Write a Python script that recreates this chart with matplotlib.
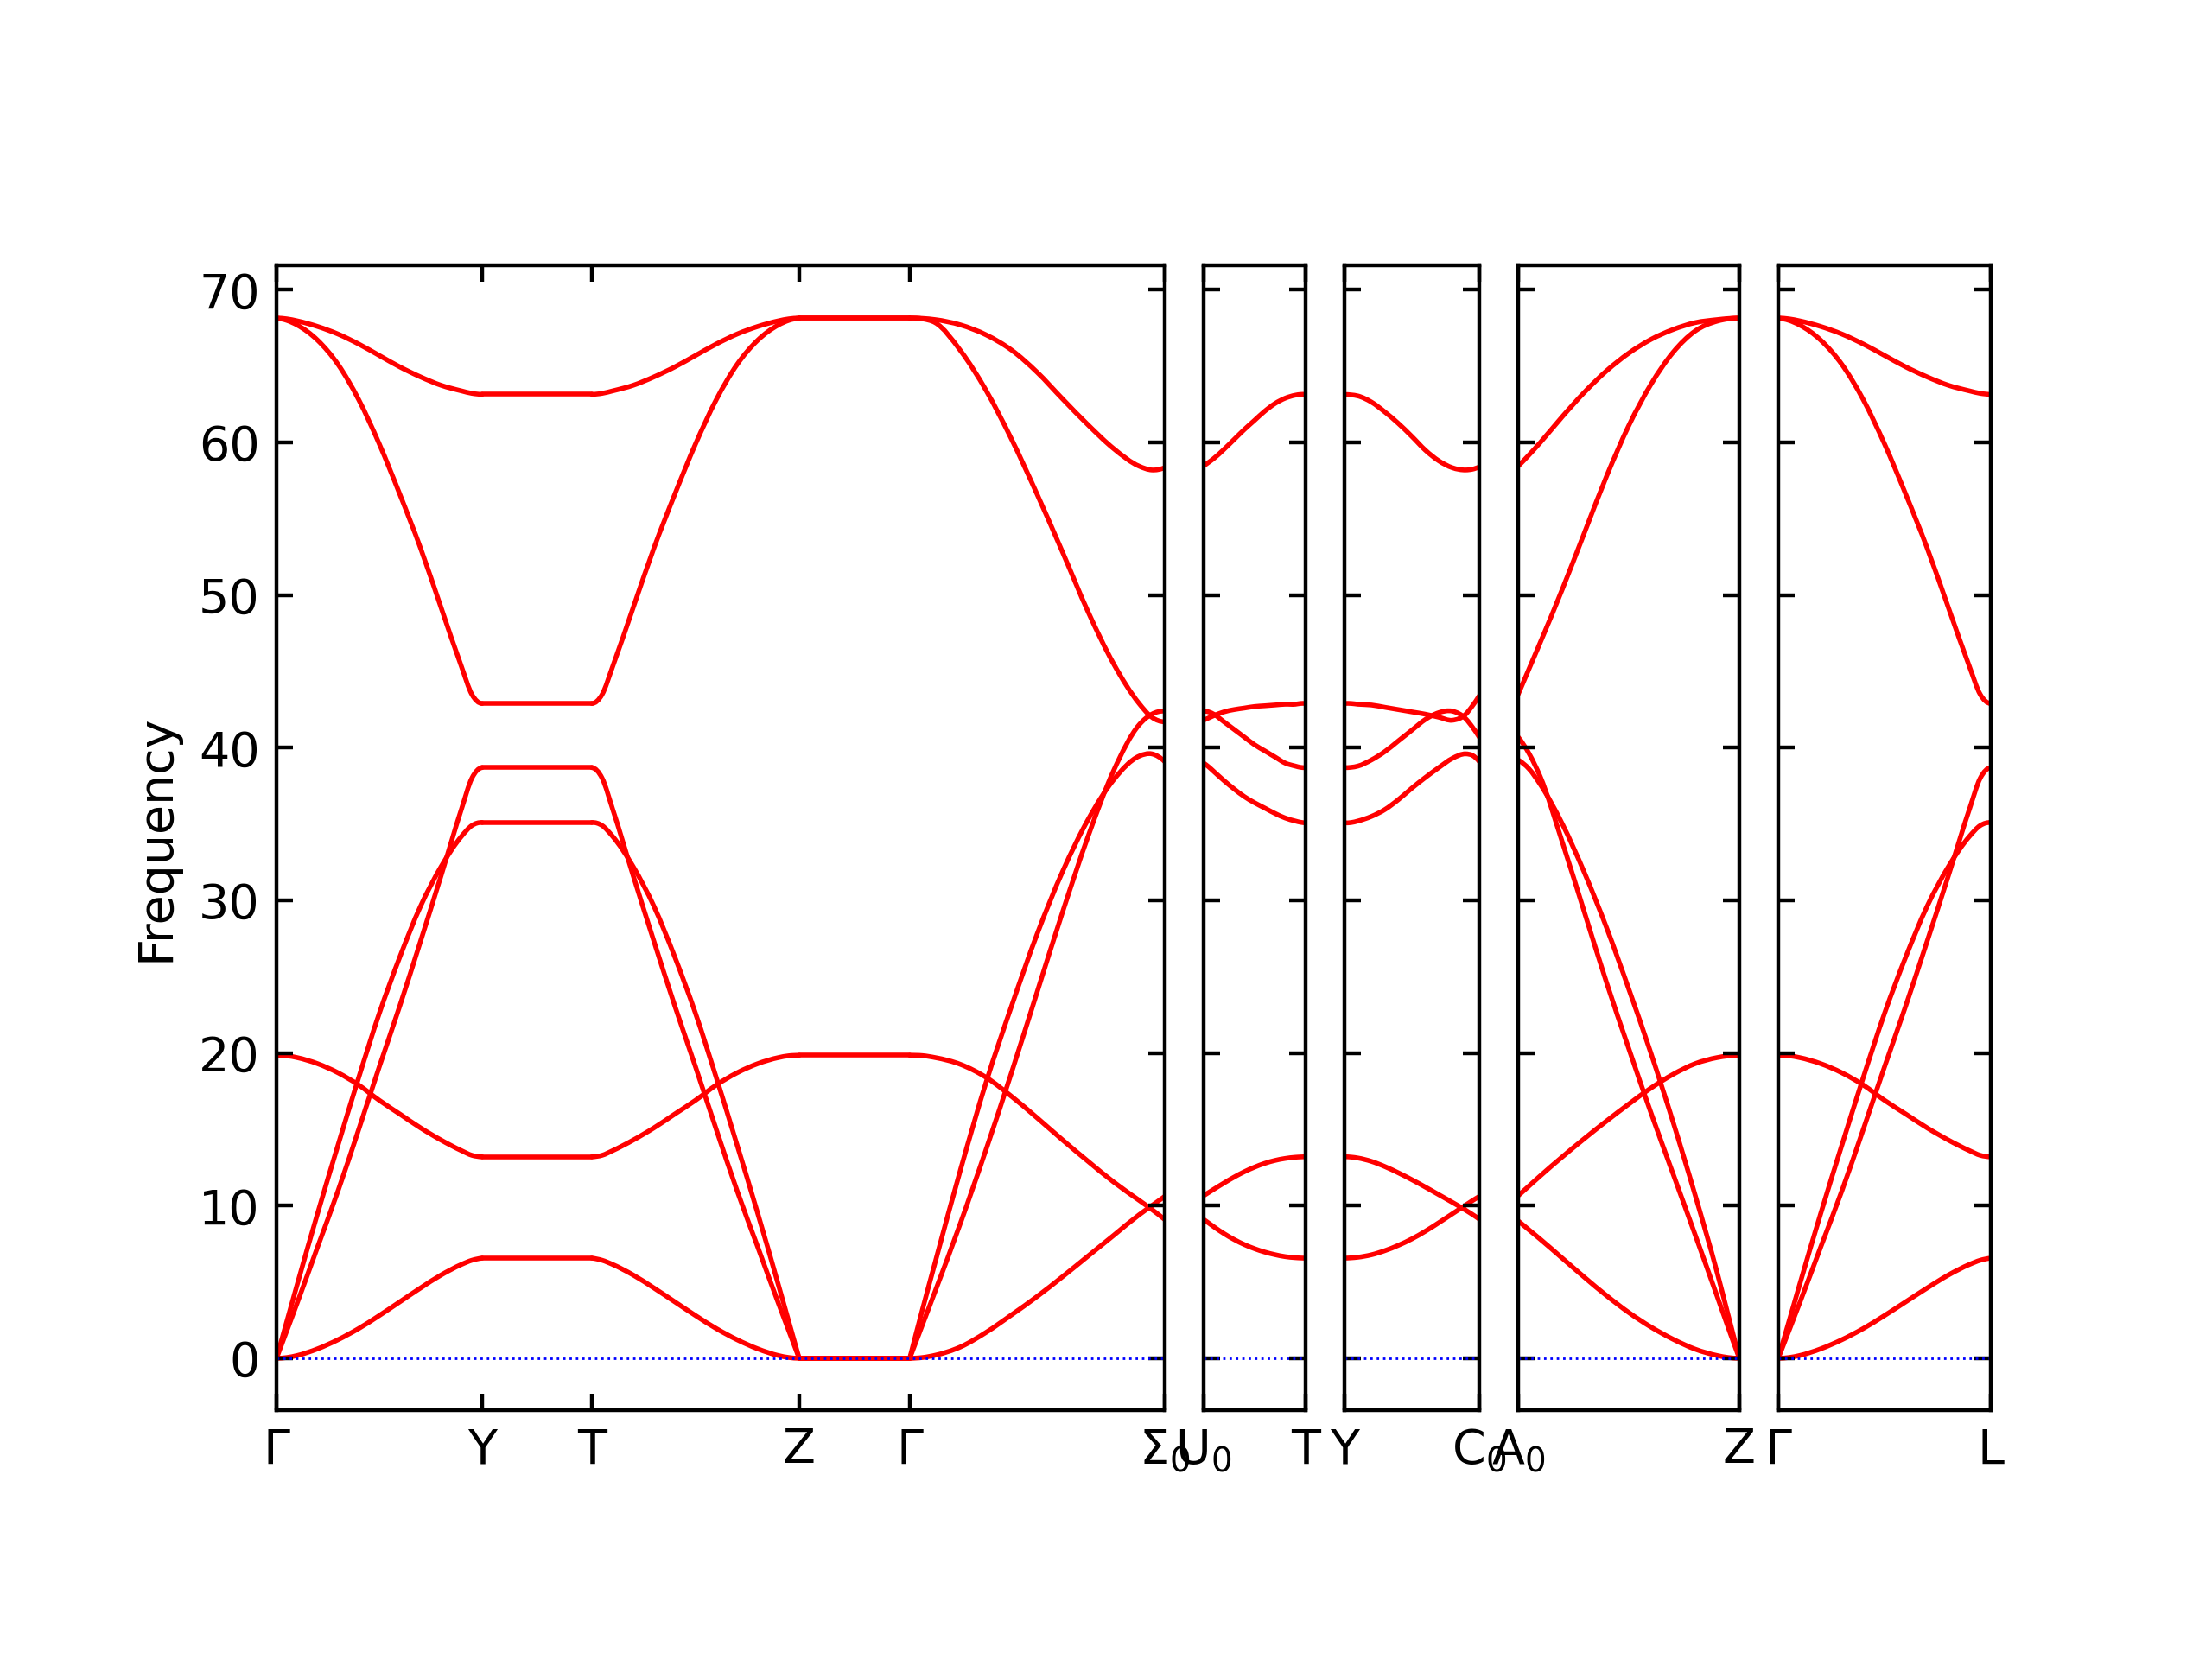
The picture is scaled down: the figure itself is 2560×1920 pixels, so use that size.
import matplotlib
matplotlib.use("Agg")
import matplotlib.pyplot as plt
from matplotlib.path import Path
from matplotlib.patches import PathPatch

# fractional positions along each path segment at which values were read
T13 = [0, .05, .1, .2, .3, .4, .5, .6, .7, .8, .9, .95, 1]
T2 = [0, 1]

# ---- Gamma -> Y ----
GY_A = [68.15, 68.1, 67.97, 67.6, 67.1, 66.45, 65.7, 64.95, 64.3, 63.75, 63.38, 63.22, 63.15]
GY_B = [68.15, 68.0, 67.7, 66.7, 65.1, 62.8, 59.9, 56.6, 53.1, 49.2, 45.3, 43.5, 42.9]
GY_C = [19.85, 19.82, 19.7, 19.3, 18.7, 17.9, 16.9, 16.0, 15.1, 14.3, 13.6, 13.3, 13.2]
GY_D = [0, 0.05, 0.18, 0.62, 1.22, 1.95, 2.8, 3.7, 4.6, 5.45, 6.15, 6.42, 6.56]
GY_E = [0, 1.8, 3.6, 7.3, 11.0, 15.0, 19.1, 23.1, 27.3, 31.6, 36.0, 38.0, 38.7]
GY_F = [0, 2.4, 4.8, 9.5, 14.0, 18.4, 22.6, 26.3, 29.6, 32.2, 34.2, 34.9, 35.1]

# ---- Y -> T (flat) ----
YT_VALUES = [63.15, 42.9, 13.2, 6.56, 38.7, 35.1]

# ---- T -> Z ----
TZ_A = [63.15, 63.22, 63.38, 63.75, 64.3, 64.95, 65.7, 66.45, 67.1, 67.6, 67.97, 68.1, 68.15]
TZ_B = [42.9, 43.5, 45.3, 49.2, 53.1, 56.6, 59.9, 62.8, 65.1, 66.7, 67.7, 68.0, 68.15]
TZ_C = [13.2, 13.3, 13.6, 14.3, 15.1, 16.0, 16.9, 17.9, 18.7, 19.3, 19.7, 19.82, 19.85]
TZ_D = [6.56, 6.42, 6.15, 5.45, 4.6, 3.7, 2.8, 1.95, 1.22, 0.62, 0.18, 0.05, 0]
TZ_E = [38.7, 38.0, 36.0, 31.6, 27.3, 23.1, 19.1, 15.0, 11.0, 7.3, 3.6, 1.8, 0]
TZ_F = [35.1, 34.9, 34.2, 32.2, 29.6, 26.3, 22.6, 18.4, 14.0, 9.5, 4.8, 2.4, 0]

# ---- Z -> Gamma (flat) ----
ZG_VALUES = [68.15, 68.15, 19.85, 0, 0, 0]

# ---- Gamma -> Sigma0 ----
GS_A = [68.15, 68.13, 68.05, 67.7, 67.05, 66.05, 64.6, 62.85, 61.15, 59.6, 58.45, 58.2, 58.35]
GS_B = [68.15, 68.1, 67.85, 66.0, 63.4, 60.2, 56.6, 52.8, 48.9, 45.5, 42.9, 42.0, 41.7]
GS_C = [19.85, 19.83, 19.7, 19.25, 18.4, 17.15, 15.75, 14.3, 12.9, 11.55, 10.35, 9.75, 9.1]
GS_D = [0, 0.05, 0.2, 0.75, 1.7, 2.85, 4.05, 5.35, 6.7, 8.05, 9.4, 10.0, 10.6]
GS_E = [0, 2.2, 4.4, 8.9, 13.7, 18.75, 24.0, 29.25, 34.2, 38.5, 41.5, 42.2, 42.4]
GS_F = [0, 3.2, 6.3, 12.4, 18.1, 23.1, 27.8, 31.9, 35.3, 37.9, 39.45, 39.6, 39.1]

# ---- U0 -> T ----
UT_A = [58.46, 58.7, 58.95, 59.55, 60.2, 60.85, 61.45, 62.05, 62.55, 62.9, 63.1, 63.15, 63.15]
UT_B = [41.8, 41.95, 42.1, 42.35, 42.5, 42.6, 42.7, 42.75, 42.8, 42.85, 42.85, 42.9, 42.9]
UT_C = [42.4, 42.35, 42.2, 41.7, 41.2, 40.7, 40.2, 39.8, 39.4, 39.0, 38.8, 38.72, 38.7]
UT_D = [39.0, 38.75, 38.45, 37.85, 37.3, 36.8, 36.4, 36.05, 35.7, 35.4, 35.2, 35.12, 35.08]
UT_E = [10.65, 10.86, 11.07, 11.48, 11.87, 12.22, 12.52, 12.77, 12.96, 13.09, 13.17, 13.19, 13.2]
UT_F = [9.1, 8.86, 8.62, 8.17, 7.78, 7.45, 7.18, 6.96, 6.79, 6.66, 6.59, 6.57, 6.56]

# ---- Y -> C0 ----
YC_A = [63.15, 63.12, 63.05, 62.65, 62.0, 61.25, 60.4, 59.5, 58.8, 58.35, 58.2, 58.25, 58.4]
YC_B = [42.9, 42.9, 42.85, 42.8, 42.65, 42.5, 42.35, 42.2, 42.0, 41.8, 42.2, 42.75, 43.4]
YC_C = [38.7, 38.72, 38.8, 39.2, 39.75, 40.45, 41.15, 41.85, 42.3, 42.4, 41.9, 41.35, 40.7]
YC_D = [35.08, 35.1, 35.2, 35.5, 35.95, 36.6, 37.35, 38.05, 38.7, 39.3, 39.6, 39.5, 39.1]
YC_E = [13.2, 13.18, 13.12, 12.9, 12.56, 12.15, 11.7, 11.22, 10.72, 10.22, 9.7, 9.42, 9.12]
YC_F = [6.56, 6.58, 6.62, 6.78, 7.05, 7.4, 7.82, 8.32, 8.88, 9.46, 10.04, 10.33, 10.6]

# ---- A0 -> Z ----
AZ_A = [58.45, 59.2, 60.0, 61.7, 63.3, 64.7, 65.85, 66.75, 67.4, 67.85, 68.05, 68.12, 68.15]
AZ_B = [43.5, 45.2, 46.9, 50.4, 54.1, 57.8, 61.1, 63.8, 65.9, 67.3, 67.95, 68.1, 68.15]
AZ_C = [40.7, 39.6, 38.1, 33.8, 29.2, 24.6, 20.3, 16.1, 12.1, 8.1, 4.05, 2.0, 0]
AZ_D = [39.2, 38.6, 37.6, 35.0, 31.8, 28.2, 24.2, 20.0, 15.5, 10.7, 5.6, 2.8, 0]
AZ_E = [10.65, 11.3, 11.95, 13.2, 14.4, 15.55, 16.65, 17.7, 18.6, 19.3, 19.7, 19.81, 19.85]
AZ_F = [9.0, 8.4, 7.8, 6.55, 5.3, 4.1, 3.0, 2.05, 1.25, 0.6, 0.18, 0.05, 0]

# ---- Gamma -> L ----
GL_A = [68.15, 68.1, 67.97, 67.6, 67.1, 66.45, 65.7, 64.95, 64.3, 63.75, 63.38, 63.22, 63.15]
GL_B = [68.15, 68.0, 67.7, 66.7, 65.1, 62.8, 59.9, 56.6, 53.1, 49.2, 45.3, 43.5, 42.9]
GL_C = [19.85, 19.82, 19.7, 19.3, 18.7, 17.9, 16.9, 16.0, 15.1, 14.3, 13.6, 13.3, 13.2]
GL_D = [0, 0.05, 0.18, 0.62, 1.22, 1.95, 2.8, 3.7, 4.6, 5.45, 6.15, 6.42, 6.56]
GL_E = [0, 1.8, 3.6, 7.3, 11.0, 15.0, 19.1, 23.1, 27.3, 31.6, 36.0, 38.0, 38.7]
GL_F = [0, 2.4, 4.8, 9.5, 14.0, 18.4, 22.6, 26.3, 29.6, 32.2, 34.2, 34.9, 35.1]

# path segment lengths (relative)
SEG_LENGTHS = [238, 127, 240, 128, 295, 118, 156, 256, 246]

# tick labels per panel
PANEL_LABELS = [
    [r"$\Gamma$", "Y", "T", "Z", r"$\Gamma$", r"$\mathrm{\Sigma_0}$"],
    [r"$\mathrm{U_0}$", "T"],
    ["Y", r"$\mathrm{C_0}$"],
    [r"$\mathrm{A_0}$", "Z"],
    [r"$\Gamma$", "L"],
]

YT = [[v, v] for v in YT_VALUES]
ZG = [[v, v] for v in ZG_VALUES]

segments = [
    (T13, [GY_A, GY_B, GY_C, GY_D, GY_E, GY_F]),
    (T2, YT),
    (T13, [TZ_A, TZ_B, TZ_C, TZ_D, TZ_E, TZ_F]),
    (T2, ZG),
    (T13, [GS_A, GS_B, GS_C, GS_D, GS_E, GS_F]),
    (T13, [UT_A, UT_B, UT_C, UT_D, UT_E, UT_F]),
    (T13, [YC_A, YC_B, YC_C, YC_D, YC_E, YC_F]),
    (T13, [AZ_A, AZ_B, AZ_C, AZ_D, AZ_E, AZ_F]),
    (T13, [GL_A, GL_B, GL_C, GL_D, GL_E, GL_F]),
]
panel_segments = [[0, 1, 2, 3, 4], [5], [6], [7], [8]]


def smooth_path(xs, ys):
    """Bezier path passing through the read points (drawing only)."""
    n = len(xs)
    if n == 2:
        return Path([(xs[0], ys[0]), (xs[1], ys[1])], [Path.MOVETO, Path.LINETO])
    h = [xs[i + 1] - xs[i] for i in range(n - 1)]
    d = [(ys[i + 1] - ys[i]) / h[i] for i in range(n - 1)]
    m = [0.0] * n
    for i in range(1, n - 1):
        m[i] = (d[i - 1] * h[i] + d[i] * h[i - 1]) / (h[i - 1] + h[i])
    m[0] = ((2 * h[0] + h[1]) * d[0] - h[0] * d[1]) / (h[0] + h[1])
    m[-1] = ((2 * h[-1] + h[-2]) * d[-1] - h[-1] * d[-2]) / (h[-1] + h[-2])
    verts = [(xs[0], ys[0])]
    codes = [Path.MOVETO]
    for i in range(n - 1):
        hh = h[i] / 3.0
        verts += [(xs[i] + hh, ys[i] + m[i] * hh),
                  (xs[i + 1] - hh, ys[i + 1] - m[i + 1] * hh),
                  (xs[i + 1], ys[i + 1])]
        codes += [Path.CURVE4] * 3
    return Path(verts, codes)


widths = [sum(SEG_LENGTHS[i] for i in segs) for segs in panel_segments]

fig = plt.figure(figsize=(6.4, 4.8), dpi=400)
gs = fig.add_gridspec(1, 5, width_ratios=widths, left=0.125, right=0.9,
                      bottom=0.15, top=0.84, wspace=0.125)

for p, segs in enumerate(panel_segments):
    ax = fig.add_subplot(gs[0, p])
    x0 = 0.0
    ticks = [0.0]
    for si in segs:
        tgrid, bands = segments[si]
        L = SEG_LENGTHS[si]
        xs = [x0 + t * L for t in tgrid]
        for band in bands:
            ax.add_patch(PathPatch(smooth_path(xs, band), fill=False,
                                   edgecolor="r", linewidth=1.0,
                                   capstyle="round", joinstyle="round"))
        x0 += L
        ticks.append(x0)
    ax.axhline(0, color="b", linestyle=":", linewidth=0.5)
    ax.set_xlim(0, x0)
    ax.set_ylim(-3.4, 71.6)
    ax.set_xticks(ticks)
    ax.set_xticklabels(PANEL_LABELS[p])
    ax.set_yticks([0, 10, 20, 30, 40, 50, 60, 70])
    ax.tick_params(which="both", direction="in", top=True, right=True)
    if p == 0:
        ax.set_ylabel("Frequency")
    else:
        ax.set_yticklabels([])

fig.savefig("out.png", dpi=400)
